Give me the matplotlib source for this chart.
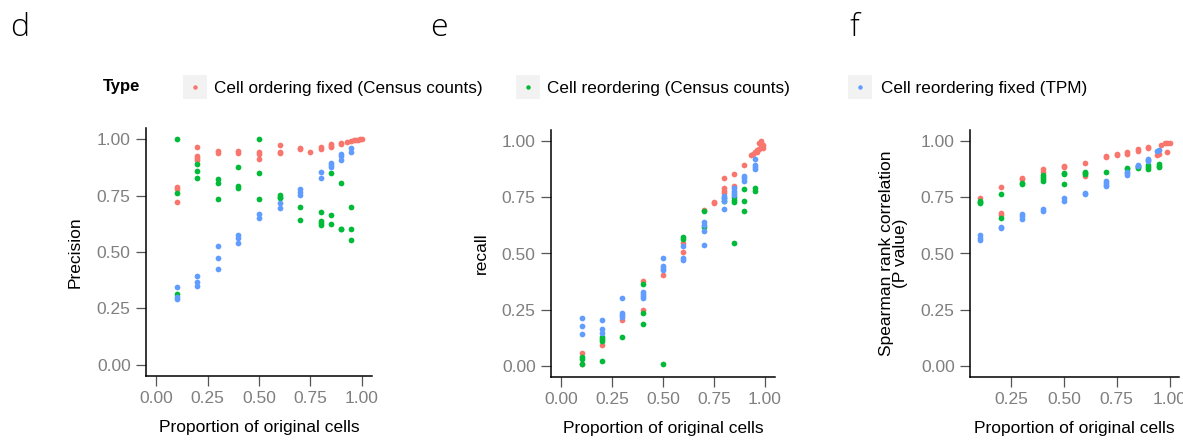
import matplotlib
matplotlib.use("Agg")
import matplotlib.pyplot as plt
from matplotlib.patches import Rectangle
from matplotlib.lines import Line2D

plt.rcParams["font.family"] = ["Liberation Sans", "DejaVu Sans"]

TYPES = ["Cell ordering fixed (Census counts)", "Cell reordering (Census counts)",
         "Cell reordering fixed (TPM)"]
COLORS = ["#F8766D", "#00BA38", "#619CFF"]
YTICKS = [0.0, 0.25, 0.5, 0.75, 1.0]

# panel d: precision
d_red_x = [0.1, 0.1, 0.1, 0.2, 0.2, 0.2, 0.2, 0.3, 0.3, 0.4, 0.4, 0.5, 0.5, 0.5, 0.6, 0.6, 0.6,
           0.7, 0.7, 0.75, 0.8, 0.8, 0.85, 0.85, 0.85, 0.9, 0.9, 0.93, 0.95, 0.96, 0.97, 0.98, 0.99, 1.0]
d_red_y = [0.79, 0.78, 0.72, 0.964, 0.927, 0.918, 0.908, 0.95, 0.94, 0.95, 0.94, 0.945, 0.935, 0.911,
           0.973, 0.945, 0.94, 0.96, 0.955, 0.945, 0.965, 0.958, 0.98, 0.972, 0.965, 0.985, 0.98,
           0.99, 0.993, 0.995, 0.997, 0.998, 1.0, 1.0]
d_green_x = [0.1, 0.1, 0.1, 0.2, 0.2, 0.2, 0.3, 0.3, 0.3, 0.4, 0.4, 0.4, 0.5, 0.5, 0.5, 0.6, 0.6, 0.6,
             0.7, 0.7, 0.8, 0.8, 0.8, 0.8, 0.85, 0.85, 0.85, 0.9, 0.9, 0.9, 0.95, 0.95, 0.95]
d_green_y = [1.0, 0.763, 0.313, 0.892, 0.858, 0.83, 0.824, 0.807, 0.736, 0.879, 0.791, 0.782,
             1.0, 0.852, 0.736, 0.755, 0.745, 0.74, 0.70, 0.641, 0.676, 0.637, 0.627, 0.619,
             0.85, 0.665, 0.625, 0.804, 0.603, 0.60, 0.70, 0.60, 0.553]
d_blue_x = [0.1, 0.1, 0.1, 0.2, 0.2, 0.2, 0.3, 0.3, 0.3, 0.4, 0.4, 0.4, 0.5, 0.5, 0.6, 0.6,
            0.7, 0.7, 0.7, 0.8, 0.8, 0.85, 0.85, 0.85, 0.9, 0.9, 0.9, 0.95, 0.95]
d_blue_y = [0.345, 0.30, 0.29, 0.393, 0.366, 0.35, 0.526, 0.474, 0.425, 0.575, 0.56, 0.541,
            0.667, 0.653, 0.716, 0.693, 0.778, 0.767, 0.753, 0.856, 0.827, 0.895, 0.885, 0.875,
            0.935, 0.925, 0.91, 0.96, 0.945]

# panel e: recall
e_red_x = [0.1, 0.1, 0.2, 0.3, 0.4, 0.4, 0.5, 0.6, 0.6, 0.7, 0.75, 0.75, 0.8, 0.8, 0.8, 0.8,
           0.85, 0.85, 0.9, 0.93, 0.94, 0.95, 0.96, 0.96, 0.97, 0.97, 0.98, 0.98, 0.99, 0.99]
e_red_y = [0.055, 0.01, 0.092, 0.202, 0.378, 0.248, 0.404, 0.545, 0.505, 0.695, 0.73, 0.725,
           0.838, 0.79, 0.78, 0.77, 0.853, 0.80, 0.893, 0.94, 0.945, 0.95, 0.95, 0.96, 0.965,
           0.99, 0.975, 1.0, 0.985, 0.97]
e_green_x = [0.1, 0.1, 0.1, 0.2, 0.2, 0.2, 0.2, 0.3, 0.4, 0.4, 0.4, 0.5, 0.6, 0.6, 0.7, 0.7,
             0.8, 0.8, 0.85, 0.85, 0.85, 0.85, 0.9, 0.9, 0.9, 0.95, 0.95]
e_green_y = [0.04, 0.006, 0.03, 0.13, 0.12, 0.11, 0.021, 0.129, 0.364, 0.236, 0.188, 0.006,
             0.573, 0.564, 0.69, 0.619, 0.745, 0.735, 0.75, 0.74, 0.73, 0.547, 0.789, 0.735,
             0.69, 0.79, 0.78]
e_blue_x = [0.1, 0.1, 0.1, 0.2, 0.2, 0.2, 0.3, 0.3, 0.3, 0.3, 0.4, 0.4, 0.4, 0.4, 0.5, 0.5, 0.5, 0.5,
            0.6, 0.6, 0.6, 0.7, 0.7, 0.7, 0.7, 0.8, 0.8, 0.8, 0.8, 0.85, 0.85, 0.85, 0.85,
            0.9, 0.9, 0.9, 0.95, 0.95, 0.95, 0.95]
e_blue_y = [0.211, 0.177, 0.141, 0.203, 0.162, 0.144, 0.304, 0.236, 0.226, 0.215, 0.33, 0.32,
            0.31, 0.30, 0.481, 0.445, 0.435, 0.425, 0.534, 0.48, 0.47, 0.64, 0.625, 0.60, 0.54,
            0.755, 0.745, 0.735, 0.70, 0.79, 0.78, 0.77, 0.76, 0.845, 0.835, 0.825,
            0.92, 0.895, 0.885, 0.875]

# panel f: spearman rank correlation
f_red_x = [0.1, 0.2, 0.2, 0.2, 0.3, 0.3, 0.4, 0.4, 0.5, 0.5, 0.6, 0.6, 0.7, 0.7, 0.75, 0.75,
           0.8, 0.8, 0.85, 0.85, 0.9, 0.9, 0.94, 0.95, 0.96, 0.98, 0.99, 1.0, 0.99]
f_red_y = [0.748, 0.795, 0.68, 0.67, 0.835, 0.83, 0.875, 0.865, 0.89, 0.885, 0.905, 0.845,
           0.935, 0.93, 0.945, 0.94, 0.95, 0.945, 0.965, 0.955, 0.975, 0.97, 0.94, 0.945,
           0.985, 0.99, 0.993, 0.993, 0.95]
f_green_x = [0.1, 0.1, 0.1, 0.2, 0.2, 0.3, 0.3, 0.4, 0.4, 0.4, 0.4, 0.5, 0.5, 0.5, 0.6, 0.6, 0.6,
             0.7, 0.8, 0.8, 0.85, 0.85, 0.85, 0.9, 0.9, 0.9, 0.95, 0.95, 0.95]
f_green_y = [0.735, 0.73, 0.725, 0.764, 0.656, 0.812, 0.808, 0.85, 0.84, 0.83, 0.825, 0.86,
             0.855, 0.81, 0.865, 0.86, 0.855, 0.865, 0.88, 0.875, 0.89, 0.885, 0.88,
             0.895, 0.885, 0.875, 0.90, 0.89, 0.885]
f_blue_x = [0.1, 0.1, 0.1, 0.2, 0.2, 0.3, 0.3, 0.3, 0.4, 0.4, 0.5, 0.5, 0.6, 0.6, 0.7, 0.7, 0.7, 0.7,
            0.8, 0.8, 0.8, 0.85, 0.85, 0.9, 0.9, 0.9, 0.94, 0.95]
f_blue_y = [0.582, 0.567, 0.56, 0.62, 0.615, 0.675, 0.665, 0.655, 0.70, 0.69, 0.745, 0.735,
            0.77, 0.765, 0.825, 0.815, 0.805, 0.80, 0.865, 0.858, 0.85, 0.895, 0.89,
            0.92, 0.915, 0.91, 0.955, 0.96]

W, H = 1183, 440


def fx(px):
    return px / W


def fy(py):
    return 1 - py / H


def style(ax, ylabel, xlim, xticks, ypad):
    ax.set_xlim(*xlim); ax.set_ylim(-0.05, 1.05)
    ax.set_xticks(xticks); ax.set_xticklabels([f"{t:.2f}" for t in xticks])
    ax.set_yticks(YTICKS); ax.set_yticklabels([f"{t:.2f}" for t in YTICKS])
    for s in ("top", "right"):
        ax.spines[s].set_visible(False)
    for s in ("left", "bottom"):
        ax.spines[s].set_linewidth(1.1); ax.spines[s].set_color("black")
    ax.tick_params(length=7.5, width=0.9, color="#555555", labelcolor="#7f7f7f",
                   labelsize=12.5, pad=3.5)
    ax.set_xlabel("Proportion of original cells", fontsize=12.5, labelpad=10)
    ax.set_ylabel(ylabel, fontsize=12.5, labelpad=ypad, linespacing=0.95)


fig = plt.figure(figsize=(W / 100, H / 100), dpi=100)

panels = [
    ((146, 376, 226, 248), "Precision", (-0.05, 1.05), YTICKS, 10,
     [(d_red_x, d_red_y), (d_green_x, d_green_y), (d_blue_x, d_blue_y)]),
    ((551, 377, 224, 247), "recall", (-0.05, 1.05), YTICKS, 9,
     [(e_red_x, e_red_y), (e_green_x, e_green_y), (e_blue_x, e_blue_y)]),
    ((970, 377, 209, 247), "Spearman rank correlation\n(P value)", (0.055, 1.045), YTICKS[1:], 9,
     [(f_red_x, f_red_y), (f_green_x, f_green_y), (f_blue_x, f_blue_y)]),
]
for (left, bottom, w, h), ylab, xlim, xt, ypad, series in panels:
    ax = fig.add_axes([fx(left), fy(bottom), w / W, h / H])
    for (xs, ys), c in zip(series, COLORS):
        ax.scatter(xs, ys, s=17, color=c, linewidths=0, clip_on=False)
    style(ax, ylab, xlim, xt, ypad)

# panel letters
for lx, letter in [(10, "d"), (430, "e"), (849, "f")]:
    fig.text(fx(lx), fy(36), letter, fontsize=23, family=["Open Sans", "DejaVu Sans"],
             fontweight="light", ha="left", va="baseline")

# legend
fig.text(fx(103), fy(86), "Type", fontsize=12, fontweight="bold", ha="left", va="center")
for (sq, tx), lab, c in zip([(183, 214), (516, 547), (848, 881)], TYPES, COLORS):
    fig.add_artist(Rectangle((fx(sq), fy(99)), 24 / W, 24 / H, transform=fig.transFigure,
                             facecolor="#F2F2F2", edgecolor="none"))
    fig.add_artist(Line2D([fx(sq + 12)], [fy(87)], marker="o", markersize=3.2, color=c,
                          markeredgewidth=0, transform=fig.transFigure))
    fig.text(fx(tx), fy(88), lab, fontsize=12.3, ha="left", va="center")

fig.savefig("out.png", dpi=100)
